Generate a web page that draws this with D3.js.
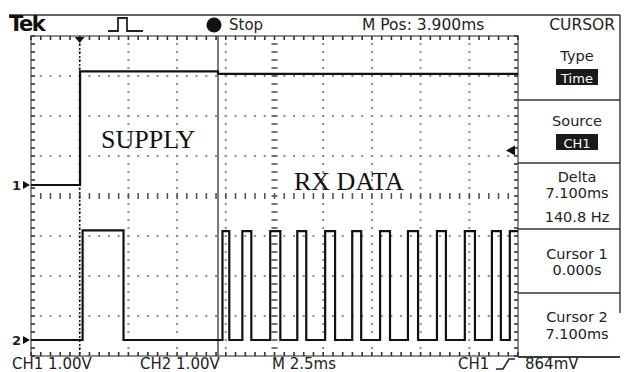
<!DOCTYPE html>
<html>
<head>
<meta charset="utf-8">
<script src="https://cdn.jsdelivr.net/npm/d3@7"></script>
<style>
  body { margin: 0; background: #fff; }
  svg { display: block; }
  text { font-family: "DejaVu Sans", sans-serif; fill: #222; }
</style>
</head>
<body>
<svg id="scope" width="624" height="372"></svg>
<script>
// Acquisition settings
const msPerDiv = 2.5;
const voltsPerDiv = 1.0;
const timeDomain = [-2.5, 22.5];      // ms relative to trigger, 10 divisions
const divDomain = [-4, 4];            // 8 vertical divisions
const ch1GroundDiv = 0.275;
const ch2GroundDiv = -3.6;
const triggerLevelV = 0.864;
const cursorTimes = [0, 7.1];

// CH1: supply rail (step after each time)
const ch1Times = [-2.5, 0.02, 7.1, 22.5];
const ch1Volts = [0, 2.84, 2.78, 2.78];

// CH2: RX data, edge times (ms) and level after each edge (V)
const ch2Times = [-2.5, 0.15, 2.25,
  7.33, 7.68, 8.35, 8.81, 9.78, 10.30, 11.17, 11.63, 12.60, 13.11,
  13.99, 14.45, 15.42, 15.93, 16.85, 17.37, 18.34, 18.80, 19.77, 20.29,
  21.16, 21.62, 22.08, 22.5];
const ch2Volts = [0, 2.74, 0,
  2.72, 0, 2.72, 0, 2.72, 0, 2.72, 0, 2.72, 0,
  2.72, 0, 2.72, 0, 2.72, 0, 2.72, 0, 2.72, 0,
  2.72, 0, 2.72, 2.72];

// Screen text
const headerLabels = ["Tek", "Stop", "M Pos: 3.900ms", "CURSOR"];
const footerLabels = ["CH1 1.00V", "CH2 1.00V", "M 2.5ms", "CH1", "864mV"];
const menuTitles = ["Type", "Source", "Delta", "Cursor 1", "Cursor 2"];
const menuValues = [["Time"], ["CH1"], ["7.100ms", "140.8 Hz"], ["0.000s"], ["7.100ms"]];
const traceNotes = ["SUPPLY", "RX DATA"];

const svg = d3.select("#scope");
const plot = { left: 31, right: 518, top: 36, bottom: 356 };

const x = d3.scaleLinear().domain(timeDomain).range([plot.left, plot.right]);
const yDiv = d3.scaleLinear().domain(divDomain).range([plot.bottom, plot.top]);
const y1 = v => yDiv(ch1GroundDiv + v / voltsPerDiv);
const y2 = v => yDiv(ch2GroundDiv + v / voltsPerDiv);

// ---- Graticule ----
const g = svg.append("g");
const minorT = d3.range(timeDomain[0], timeDomain[1] + 1e-9, msPerDiv / 5);
const minorD = d3.range(divDomain[0], divDomain[1] + 1e-9, 0.2);
const majorT = d3.range(1, 10).map(k => timeDomain[0] + k * msPerDiv);
const majorD = d3.range(1, 8).map(k => divDomain[0] + k);

// interior dotted lines
majorT.forEach((t, i) => {
  if (i === 4) return;
  g.selectAll(null).data(minorD.slice(1, -1)).join("rect")
    .attr("x", x(t) - 1).attr("y", d => yDiv(d) - 1)
    .attr("width", 2).attr("height", 2).attr("fill", "#8c8c8c");
});
majorD.forEach((d0, i) => {
  if (i === 3) return;
  g.selectAll(null).data(minorT.slice(1, -1)).join("rect")
    .attr("x", t => x(t) - 1).attr("y", yDiv(d0) - 1)
    .attr("width", 2).attr("height", 2).attr("fill", "#8c8c8c");
});
// centre lines with tick marks
const cx = x(majorT[4]), cy = yDiv(0);
g.selectAll(null).data(minorD.slice(1, -1)).join("line")
  .attr("x1", cx - 3).attr("x2", cx + 3)
  .attr("y1", d => yDiv(d)).attr("y2", d => yDiv(d))
  .attr("stroke", "#555").attr("stroke-width", 1.6);
g.selectAll(null).data(minorT.slice(1, -1)).join("line")
  .attr("y1", cy - 3).attr("y2", cy + 3)
  .attr("x1", t => x(t)).attr("x2", t => x(t))
  .attr("stroke", "#555").attr("stroke-width", 1.6);
// border with inward ticks
g.append("rect").attr("x", plot.left).attr("y", plot.top)
  .attr("width", plot.right - plot.left).attr("height", plot.bottom - plot.top)
  .attr("fill", "none").attr("stroke", "#444").attr("stroke-width", 1.2);
[[plot.left, 1], [plot.right, -1]].forEach(([bx, s]) => {
  g.selectAll(null).data(minorD).join("line")
    .attr("x1", bx).attr("x2", bx + s * 4)
    .attr("y1", d => yDiv(d)).attr("y2", d => yDiv(d))
    .attr("stroke", "#333").attr("stroke-width", 1.6);
});
[[plot.top, 1], [plot.bottom, -1]].forEach(([by, s]) => {
  g.selectAll(null).data(minorT).join("line")
    .attr("y1", by).attr("y2", by + s * 4)
    .attr("x1", t => x(t)).attr("x2", t => x(t))
    .attr("stroke", "#333").attr("stroke-width", 1.6);
});

// ---- Cursors ----
svg.append("line").attr("x1", x(cursorTimes[0])).attr("x2", x(cursorTimes[0]))
  .attr("y1", plot.top).attr("y2", plot.bottom)
  .attr("stroke", "#222").attr("stroke-width", 1.6).attr("stroke-dasharray", "2,2");
svg.append("line").attr("x1", x(cursorTimes[1])).attr("x2", x(cursorTimes[1]))
  .attr("y1", plot.top).attr("y2", plot.bottom)
  .attr("stroke", "#333").attr("stroke-width", 1.3);

// ---- Traces ----
const line1 = d3.line().x(d => x(d[0])).y(d => y1(d[1])).curve(d3.curveStepAfter);
const line2 = d3.line().x(d => x(d[0])).y(d => y2(d[1])).curve(d3.curveStepAfter);
svg.append("path").datum(d3.zip(ch1Times, ch1Volts)).attr("d", line1)
  .attr("fill", "none").attr("stroke", "#111").attr("stroke-width", 2.2);
svg.append("path").datum(d3.zip(ch2Times, ch2Volts)).attr("d", line2)
  .attr("fill", "none").attr("stroke", "#111").attr("stroke-width", 2.2);

// ---- Markers ----
// trigger position (top)
const tx = x(0);
svg.append("path").attr("d", `M${tx - 5},${plot.top + 1} L${tx + 5},${plot.top + 1} L${tx},${plot.top + 7} Z`)
  .attr("fill", "#111");
// trigger level (right)
const ty = y1(triggerLevelV);
svg.append("path").attr("d", `M${plot.right - 12},${ty} L${plot.right - 3},${ty - 5} L${plot.right - 3},${ty + 5} Z`)
  .attr("fill", "#111");
// channel ground markers
[["1", y1(0)], ["2", y2(0)]].forEach(([lab, gy]) => {
  svg.append("text").attr("x", 12).attr("y", gy + 5).text(lab)
    .style("font-size", "13px").style("font-weight", "bold");
  svg.append("path").attr("d", `M${plot.left - 1},${gy} L${plot.left - 8},${gy - 4} L${plot.left - 8},${gy + 4} Z`)
    .attr("fill", "#111");
});

// ---- Trace annotations ----
svg.append("text").attr("x", 101).attr("y", 148).text(traceNotes[0])
  .style("font-family", "'Liberation Serif', serif").style("font-size", "26px").style("fill", "#111");
svg.append("text").attr("x", 294).attr("y", 190).text(traceNotes[1])
  .style("font-family", "'Liberation Serif', serif").style("font-size", "26px").style("fill", "#111");

// ---- Header ----
svg.append("line").attr("x1", 9).attr("x2", 620).attr("y1", 15).attr("y2", 15)
  .attr("stroke", "#333").attr("stroke-width", 1.3);
svg.append("text").attr("x", 9).attr("y", 31).text(headerLabels[0])
  .style("font-size", "21px").style("font-weight", "bold").style("letter-spacing", "-1.5px").style("fill", "#111");
svg.append("path").attr("d", "M108,31 L118,31 L118,18 L127,18 L127,31 L143,31")
  .attr("fill", "none").attr("stroke", "#222").attr("stroke-width", 1.8);
svg.append("circle").attr("cx", 214).attr("cy", 25).attr("r", 7.5).attr("fill", "#111");
svg.append("text").attr("x", 229).attr("y", 30).text(headerLabels[1]).style("font-size", "15px");
svg.append("text").attr("x", 362).attr("y", 30).text(headerLabels[2]).style("font-size", "15.5px");
svg.append("text").attr("x", 615).attr("y", 30).attr("text-anchor", "end").text(headerLabels[3]).style("font-size", "15.5px");

// ---- Side menu ----
const menuTop = [36, 100, 163, 229, 293, 357];
svg.append("line").attr("x1", 620).attr("x2", 620).attr("y1", 15).attr("y2", 313)
  .attr("stroke", "#222").attr("stroke-width", 1.3);
menuTop.slice(1).forEach(my => {
  svg.append("line").attr("x1", plot.right).attr("x2", 620).attr("y1", my).attr("y2", my)
    .attr("stroke", "#333").attr("stroke-width", 1.6);
});
const mx = 577;
const titleY = [61, 126, 182, 259, 322];
menuTitles.forEach((t, i) => {
  svg.append("text").attr("x", mx).attr("y", titleY[i]).attr("text-anchor", "middle")
    .text(t).style("font-size", "14.5px");
});
// highlighted selections
[[menuValues[0][0], 69, 83], [menuValues[1][0], 134, 148]].forEach(([t, top, base]) => {
  svg.append("rect").attr("x", mx - 21).attr("y", top).attr("width", 42).attr("height", 16).attr("fill", "#1a1a1a");
  svg.append("text").attr("x", mx).attr("y", base).attr("text-anchor", "middle")
    .text(t).style("font-size", "13px").style("fill", "#fff");
});
const valY = [[198, 222], [275], [339]];
[menuValues[2], menuValues[3], menuValues[4]].forEach((vals, i) => {
  vals.forEach((v, j) => {
    svg.append("text").attr("x", mx).attr("y", valY[i][j]).attr("text-anchor", "middle")
      .text(v).style("font-size", "14.5px");
  });
});

// ---- Footer ----
svg.append("line").attr("x1", plot.right).attr("x2", 620).attr("y1", 357).attr("y2", 357)
  .attr("stroke", "#333").attr("stroke-width", 1.4);
const footX = [12, 140, 272, 458, 525];
footerLabels.forEach((t, i) => {
  svg.append("text").attr("x", footX[i]).attr("y", 369).text(t).style("font-size", "15px");
});
svg.append("path").attr("d", "M496,369 L503,369 L509,359 L515,359")
  .attr("fill", "none").attr("stroke", "#222").attr("stroke-width", 1.6);
</script>
</body>
</html>
